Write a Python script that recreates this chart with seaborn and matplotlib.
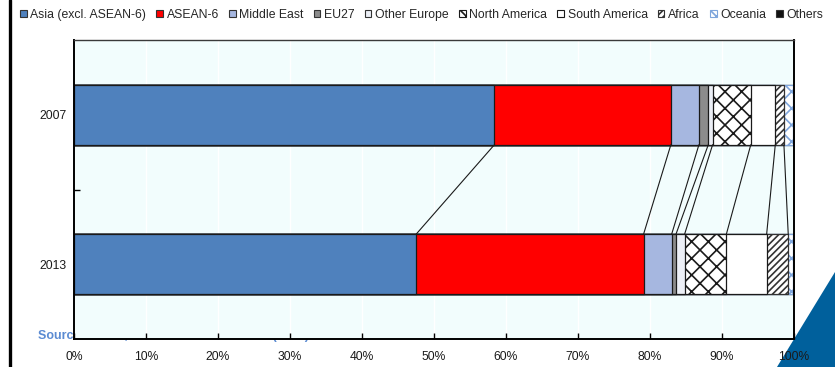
import matplotlib
matplotlib.use("Agg")
import matplotlib.pyplot as plt
from matplotlib.patches import Patch, Polygon
from matplotlib.lines import Line2D
import numpy as np
import pandas as pd
import seaborn as sns

# Shares (%) by destination region
years = ["2007", "2013"]
regions = ["Asia (excl. ASEAN-6)", "ASEAN-6", "Middle East", "EU27", "Other Europe",
           "North America", "South America", "Africa", "Oceania", "Others"]
asia = [58.4, 47.5]
asean6 = [24.5, 31.6]
middle_east = [3.9, 3.9]
eu27 = [1.3, 0.6]
other_europe = [0.6, 1.2]
north_america = [5.3, 5.8]
south_america = [3.4, 5.6]
africa = [1.2, 3.0]
oceania = [1.2, 0.7]
others = [0.2, 0.1]
xticks = [0, 10, 20, 30, 40, 50, 60, 70, 80, 90, 100]

series = [asia, asean6, middle_east, eu27, other_europe,
          north_america, south_america, africa, oceania, others]

# (facecolor, edgecolor, hatch) per region
styles = [
    ("#4F81BD", "#1a1a1a", None),
    ("#FF0000", "#1a1a1a", None),
    ("#A6B7E0", "#1a1a1a", None),
    ("#8C8C8C", "#1a1a1a", None),
    ("#ECEFF6", "#1a1a1a", None),
    ("white", "#1a1a1a", "xx"),
    ("white", "#1a1a1a", None),
    ("white", "#333333", "/////"),
    ("white", "#7FA6DC", "xx"),
    ("#111111", "#111111", None),
]

sns.set_theme(style="white")
plt.rcParams["font.family"] = ["Liberation Sans", "DejaVu Sans"]
plt.rcParams["hatch.linewidth"] = 1.2

cum = np.cumsum(np.array(series), axis=0)
df = pd.DataFrame({
    "year": np.tile(years, len(regions)),
    "region": np.repeat(regions, len(years)),
    "cum": cum.ravel(),
})

fig = plt.figure(figsize=(8.35, 3.67), dpi=100)
ax = fig.add_axes([74 / 835, 1 - 339 / 367, 720 / 835, 299 / 367])
ax.set_facecolor("#F2FDFD")

# Stacked bars: cumulative totals drawn from the widest down
for i in range(len(regions) - 1, -1, -1):
    sub = df[df["region"] == regions[i]]
    n0 = len(ax.patches)
    sns.barplot(data=sub, x="cum", y="year", order=years, orient="h",
                color=styles[i][0], width=0.4, saturation=1, ax=ax,
                edgecolor=styles[i][1], linewidth=0.9, zorder=2)
    for p in ax.patches[n0:]:
        p.set_facecolor(styles[i][0])
        p.set_edgecolor(styles[i][1])
        if styles[i][2]:
            p.set_hatch(styles[i][2])

# Connectors between segment boundaries of the two bars
for i in range(len(regions) - 2):
    ax.plot([cum[i][0], cum[i][1]], [0.2, 0.8], color="#1a1a1a", lw=0.8, zorder=3)

ax.set_xlim(0, 100)
ax.set_ylim(1.5, -0.5)
ax.set_xticks(xticks)
ax.set_xticklabels([f"{t}%" for t in xticks], fontsize=8.7, color="#1a1a1a")
ax.set_yticks([0, 1])
ax.set_yticklabels(years, fontsize=8.7, color="#1a1a1a")
ax.set_yticks([0.5], minor=True)
ax.tick_params(axis="y", which="major", length=0, pad=5.5)
ax.tick_params(axis="y", which="minor", direction="in", length=4, width=1, color="black", left=True)
ax.tick_params(axis="x", which="major", direction="in", length=4, width=1, color="black",
               bottom=True, pad=9)
ax.set_xlabel("")
ax.set_ylabel("")
ax.grid(axis="x", color="white", lw=1, zorder=0)
ax.set_axisbelow(True)
for side in ["left", "bottom", "right"]:
    ax.spines[side].set_color("black")
    ax.spines[side].set_linewidth(1.4)
ax.spines["top"].set_color("#3a3a3a")
ax.spines["top"].set_linewidth(1.0)

# Legend across the top
handles = []
for (fc, ec, h), name in zip(styles, regions):
    edge = "#333333" if fc != "white" else ec
    handles.append(Patch(facecolor=fc, edgecolor=edge, hatch=h, linewidth=0.8, label=name))
fig.legend(handles=handles, loc="center left", bbox_to_anchor=(20 / 835, 1 - 15 / 367),
           ncol=10, frameon=False, fontsize=8.8, handlelength=0.55, handleheight=0.55,
           handletextpad=0.3, columnspacing=0.82, borderpad=0, borderaxespad=0)

# Source note partly hidden behind the plot area
fig.text(38 / 835, 1 - 336 / 367, "Source: OECD, UN Comtrade database (2014)", color="#5B8BD2",
         fontsize=9, fontweight="bold", va="center", ha="left", zorder=-1)

# Page decorations
fig.add_artist(Line2D([10 / 835, 10 / 835], [0, 1], color="black", lw=2.4,
                      transform=fig.transFigure))
fig.add_artist(Polygon([[777 / 835, 0], [1, 1 - 272 / 367], [1, 0]], closed=True,
                       transform=fig.transFigure, facecolor="#00609C", edgecolor="none",
                       zorder=-2))

fig.savefig("out.png", dpi=100)
